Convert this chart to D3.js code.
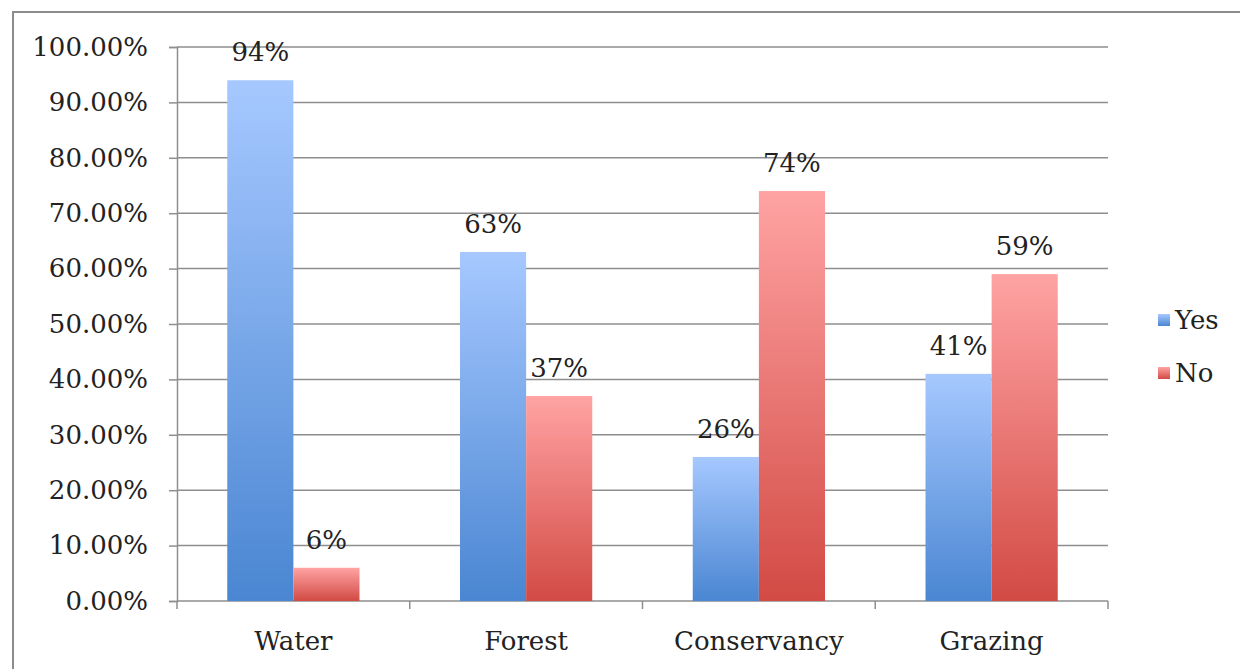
<!DOCTYPE html>
<html>
<head>
<meta charset="utf-8">
<script src="https://cdn.jsdelivr.net/npm/d3@7"></script>
<style>
    body { margin: 0; background: #fff; }
    svg text { font-family: "DejaVu Serif", serif; fill: #222; }
</style>
</head>
<body>
<svg id="chart" width="1240" height="669"></svg>
<script>
// data
var categories = ["Water", "Forest", "Conservancy", "Grazing"];
var seriesNames = ["Yes", "No"];
var yesValues = [0.94, 0.63, 0.26, 0.41];
var noValues = [0.06, 0.37, 0.74, 0.59];
var yesLabels = ["94%", "63%", "26%", "41%"];
var noLabels = ["6%", "37%", "74%", "59%"];
var yTicks = [0, 0.1, 0.2, 0.3, 0.4, 0.5, 0.6, 0.7, 0.8, 0.9, 1.0];

var main;
(function (main) {
    var left = 177, right = 1108, top = 47, bottom = 601;

    function ini() {
        let svg = d3.select("#chart");

        // outer frame
        svg.append("rect")
            .attr("x", 13).attr("y", 12)
            .attr("width", 1240).attr("height", 700)
            .attr("fill", "none").attr("stroke", "#8c8c8c").attr("stroke-width", 2);

        let defs = svg.append("defs");
        addGradient(defs, "gradYes", "#a6c8ff", "#4a86d2");
        addGradient(defs, "gradNo", "#ffa3a3", "#d24a44");

        let x = d3.scaleBand().domain(categories).range([left, right]).paddingInner(0).paddingOuter(0);
        let x1 = d3.scaleBand().domain(seriesNames).range([0, x.bandwidth()]).paddingInner(0).paddingOuter(0.76);
        let y = d3.scaleLinear().domain([0, 1]).range([bottom, top]);

        // gridlines
        svg.append("g").selectAll("line").data(yTicks.slice(1)).enter().append("line")
            .attr("x1", left).attr("x2", right)
            .attr("y1", d => y(d)).attr("y2", d => y(d))
            .attr("stroke", "#8e8e8e").attr("stroke-width", 1.5);

        // y axis
        let yAxis = d3.axisLeft(y).tickValues(yTicks).tickSize(8).tickPadding(21)
            .tickFormat(d => d3.format(".2f")(d * 100) + "%");
        let gy = svg.append("g").attr("transform", "translate(" + left + ",0)").call(yAxis);
        gy.select(".domain").attr("stroke", "#8e8e8e").attr("stroke-width", 1.5);
        gy.selectAll(".tick line").attr("stroke", "#8e8e8e").attr("stroke-width", 1.5);
        gy.selectAll(".tick text").style("font-size", "26px").style("font-family", "DejaVu Serif").style("fill", "#222");

        // x axis baseline and tick marks between categories
        let boundaries = categories.map(c => x(c)).concat([right]);
        svg.append("line").attr("x1", left).attr("x2", right).attr("y1", bottom).attr("y2", bottom)
            .attr("stroke", "#8e8e8e").attr("stroke-width", 1.5);
        svg.append("g").selectAll("line").data(boundaries).enter().append("line")
            .attr("x1", d => d).attr("x2", d => d).attr("y1", bottom).attr("y2", bottom + 8)
            .attr("stroke", "#8e8e8e").attr("stroke-width", 1.5);
        svg.append("g").selectAll("text").data(categories).enter().append("text")
            .attr("x", d => x(d) + x.bandwidth() / 2).attr("y", bottom + 49)
            .attr("text-anchor", "middle").style("font-size", "26px")
            .text(d => d);

        // bars
        let rows = categories.map((c, i) => ({ cat: c, values: [
            { s: "Yes", v: yesValues[i], label: yesLabels[i] },
            { s: "No", v: noValues[i], label: noLabels[i] }
        ] }));
        let groups = svg.append("g").selectAll(".grp").data(rows).enter().append("g")
            .classed("grp", true)
            .attr("transform", d => "translate(" + x(d.cat) + ",0)");
        groups.selectAll("rect").data(d => d.values).enter().append("rect")
            .attr("x", d => x1(d.s)).attr("width", x1.bandwidth())
            .attr("y", d => y(d.v)).attr("height", d => bottom - y(d.v))
            .attr("fill", d => d.s == "Yes" ? "url(#gradYes)" : "url(#gradNo)");
        groups.selectAll("text").data(d => d.values).enter().append("text")
            .attr("x", d => x1(d.s) + x1.bandwidth() / 2).attr("y", d => y(d.v) - 19)
            .attr("text-anchor", "middle").style("font-size", "26px")
            .text(d => d.label);

        // legend
        let legend = svg.append("g").selectAll("g").data(seriesNames).enter().append("g")
            .attr("transform", (d, i) => "translate(1158," + (314 + i * 53) + ")");
        legend.append("rect").attr("width", 12).attr("height", 12)
            .attr("fill", d => d == "Yes" ? "url(#gradYes)" : "url(#gradNo)");
        legend.append("text").attr("x", 17).attr("y", 15).style("font-size", "26px").text(d => d);
    }
    main.ini = ini;

    function addGradient(defs, id, c1, c2) {
        let g = defs.append("linearGradient").attr("id", id)
            .attr("x1", 0).attr("y1", 0).attr("x2", 0).attr("y2", 1);
        g.append("stop").attr("offset", "0%").attr("stop-color", c1);
        g.append("stop").attr("offset", "100%").attr("stop-color", c2);
    }
})(main || (main = {}));
main.ini();
</script>
</body>
</html>
